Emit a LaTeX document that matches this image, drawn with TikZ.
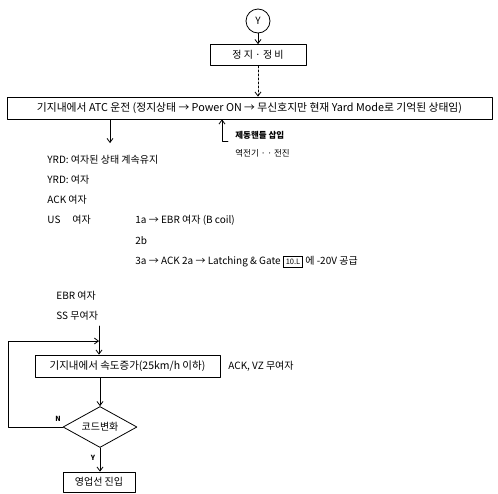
\documentclass[tikz,border=0pt]{standalone}
\usepackage{fontspec}
\setmainfont{Noto Sans CJK KR}
\usetikzlibrary{arrows.meta,shapes.geometric,positioning}
\tikzset{
	box/.style={draw, line width=0.8pt, minimum height=21pt, inner sep=2pt},
	txt/.style={anchor=west, inner sep=0pt},
	yn/.style={font=\fontsize{7}{8}\selectfont\bfseries, inner sep=0pt},
}
\setlength{\fboxsep}{2pt}
\setlength{\fboxrule}{0.8pt}
\begin{document}
\begin{tikzpicture}[x=1pt,y=-1pt,>={Straight Barb[length=4pt,width=6pt]}, font=\fontsize{10}{11}\selectfont, line join=round, line cap=round, line width=0.8pt]
	\def\xa{47} \def\xb{135} \def\xc{56} % text columns
	\useasboundingbox (0,0) rectangle (498,493);
	% top
	\node[circle,draw,minimum size=24pt,inner sep=0pt] (Y) at (258,21) {Y};
	\node[box,minimum width=96pt] (stop) at (258,55) {정 지 · 정 비};
	\node[box,minimum width=485pt,minimum height=22pt,font=\fontsize{10.8}{12}\selectfont] (atc) at (249.5,108) {기지내에서 ATC 운전 (정지상태 → Power ON → 무신호지만 현재 Yard Mode로 기억된 상태임)};
	\draw[->] (Y) -- (stop);
	\draw[->,dashed,dash pattern=on 2pt off 2pt] (stop.south) -- (stop.south |- atc.north);
	\coordinate (d1) at (110,143);
	\draw[->] (d1 |- atc.south) -- (d1);
	\coordinate (brk) at (222,141);
	\draw[<-] (brk |- atc.south) -- (brk) -- ++(6,0);
	\node[txt,font=\fontsize{8.5}{9}\selectfont\bfseries] (brake) at (235,135) {제동핸들 삽입};
	\node[txt,font=\fontsize{8.5}{9}\selectfont] (rev) at (235,153) {역전기 · · 전진};
	% relay states
	\foreach \n/\y/\t in {yrdA/160/{YRD: 여자된 상태 계속유지}, yrdB/180/{YRD: 여자}, ack/200/{ACK 여자}, us/220/{US\hspace{1.2em}여자}}
		\node[txt] (\n) at (\xa,\y) {\t};
	\foreach \n/\y/\t in {s1a/220/{1a → EBR 여자 (B coil)}, s2b/241/{2b}, s3a/262/{3a → ACK 2a → Latching \& Gate \fbox{\fontsize{7.5}{8}\selectfont 10.L} 에 -20V 공급}}
		\node[txt] (\n) at (\xb,\y) {\t};
	\node[txt] (ebr) at (\xc,296) {EBR 여자};
	\node[txt] (ss) at (\xc,316) {SS 무여자};
	% loop
	\node[box,minimum width=185pt,minimum height=22pt,font=\fontsize{10.5}{12}\selectfont] (speed) at (127.5,366) {기지내에서 속도증가(25km/h 이하)};
	\node[txt] (vz) at (228,366) {ACK, VZ 무여자};
	\coordinate (sIn) at (99,326);
	\draw[->] (sIn) -- (sIn |- speed.north);
	\node[diamond,draw,aspect=1.8,minimum width=74pt,minimum height=41pt,inner sep=1pt] (code) at (100,427) {코드변화};
	\draw[->] (speed.south -| code.north) -- (code.north);
	\coordinate (loopL) at (8,341);
	\draw[->] (code.west) -- (code.west -| loopL) -- (loopL) -- (loopL -| sIn);
	\node[yn] (nLab) at (58,419) {N};
	\node[box,minimum width=72pt,minimum height=20pt] (enter) at (99,482) {영업선 진입};
	\draw[->] (code.south) -- (code.south |- enter.north);
	\node[yn] (yLab) at (93,458) {Y};
\end{tikzpicture}
\end{document}
